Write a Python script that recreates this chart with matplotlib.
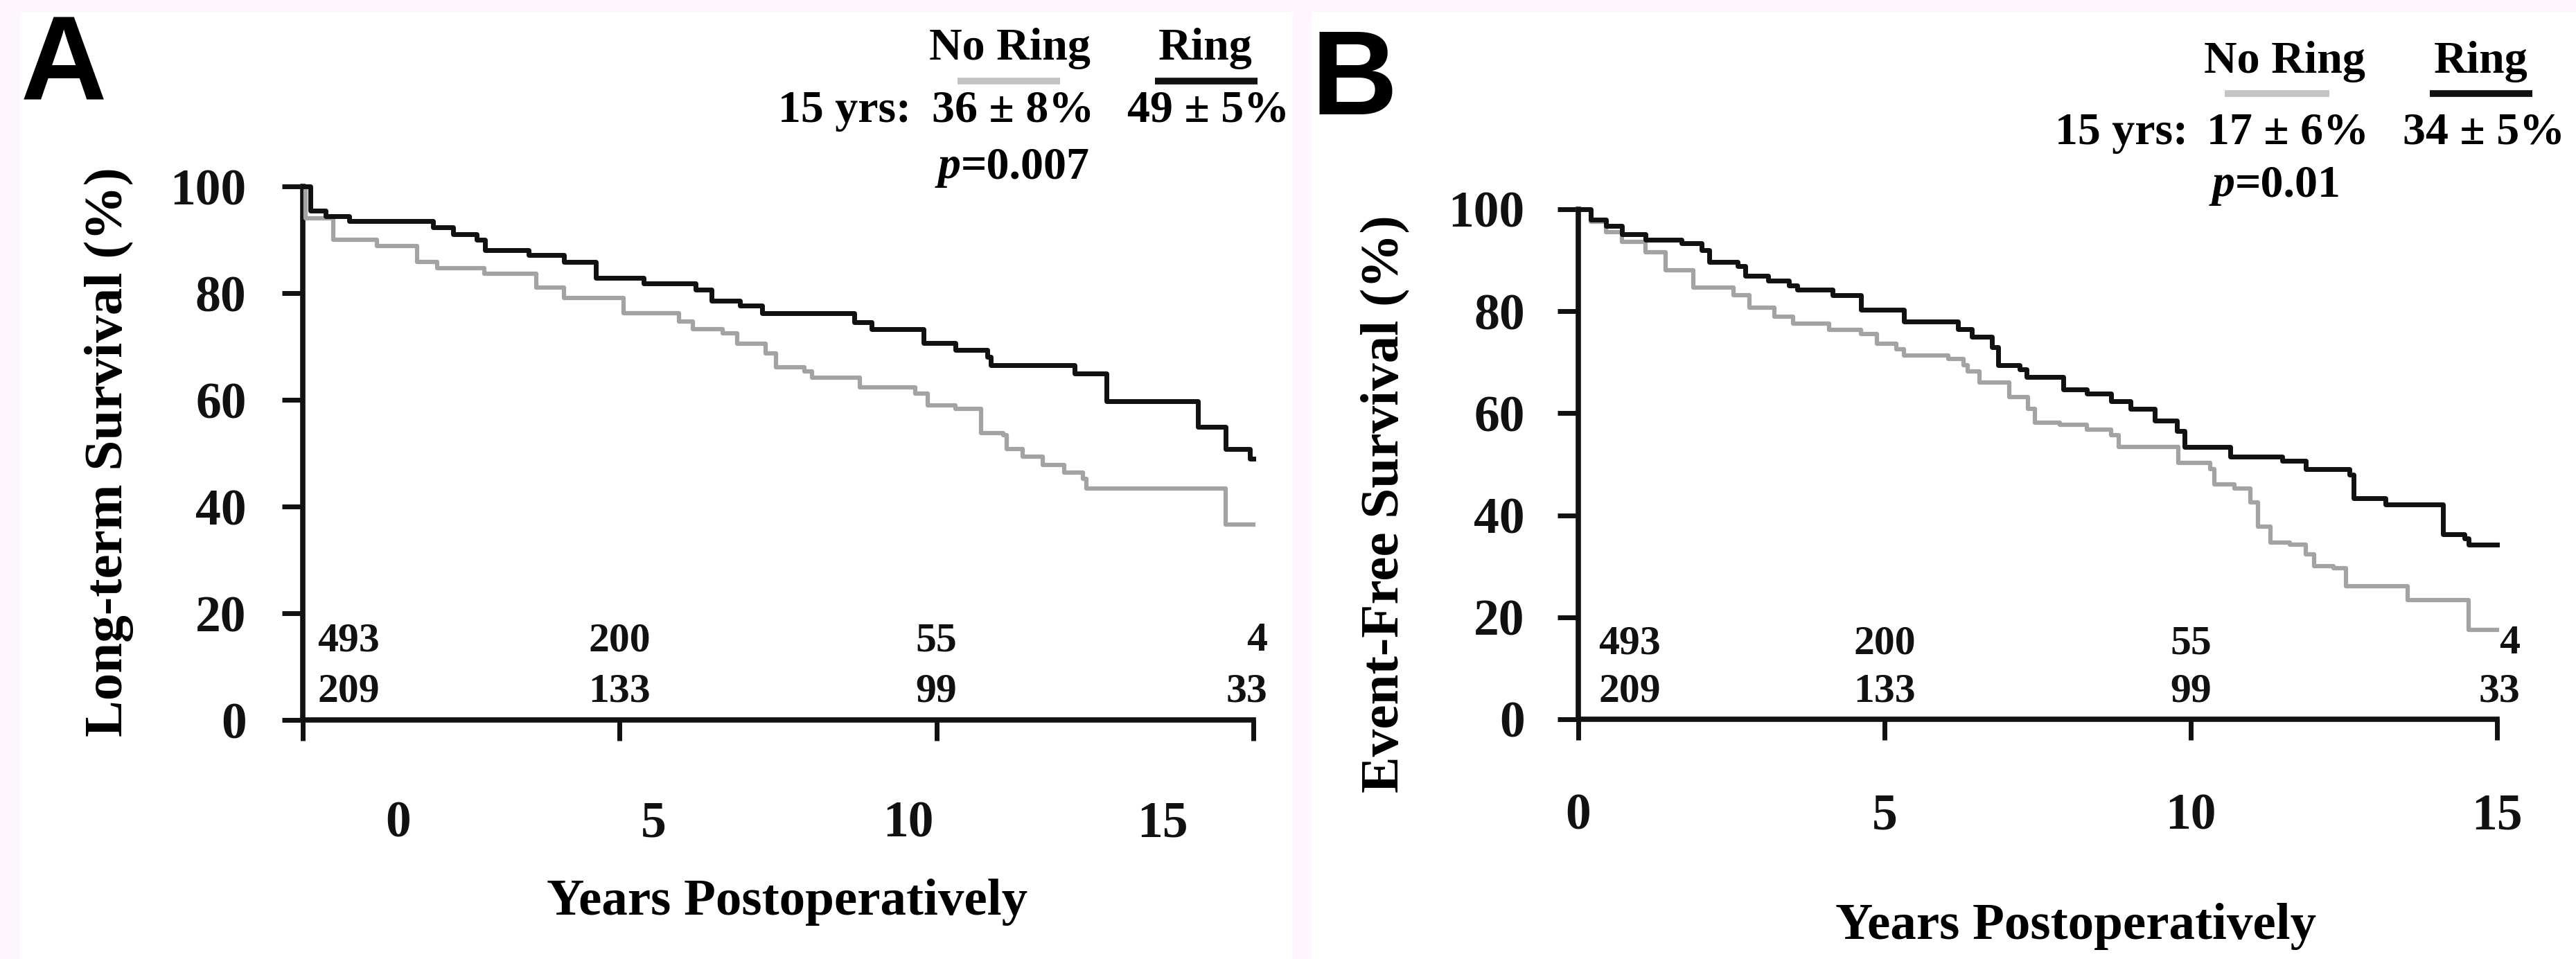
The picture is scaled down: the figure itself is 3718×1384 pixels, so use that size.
import matplotlib
matplotlib.use("Agg")
import matplotlib.pyplot as plt
from matplotlib.patches import Rectangle
from matplotlib.lines import Line2D

# -------------------------
# Data
# -------------------------
# Panel A: long-term survival (step times in years, survival in %)
a_ring_t = [0, 0.12, 0.36, 0.73, 2.06, 2.37, 2.74, 2.87, 3.56, 4.12, 4.63, 5.38, 6.2, 6.45,
            6.9, 7.25, 8.7, 8.98, 9.8, 10.3, 10.8, 10.86, 12.18, 12.68, 14.12, 14.56, 14.94, 15.0]
a_ring_s = [100, 95.5, 94.4, 93.5, 92.4, 91.0, 90.0, 88.1, 87.2, 85.8, 82.9, 81.8, 80.6, 78.6,
            77.7, 76.2, 74.5, 73.2, 70.6, 69.3, 68.0, 66.5, 65.0, 59.7, 54.9, 50.8, 49.0, 49.0]

a_noring_t = [0, 0.04, 0.48, 1.17, 1.8, 2.12, 2.86, 3.68, 4.12, 5.06, 5.94, 6.15, 6.63, 6.85,
              7.3, 7.47, 7.91, 8.04, 8.79, 9.67, 9.86, 10.3, 10.7, 11.05, 11.11, 11.36, 11.68,
              12.02, 12.31, 12.37, 14.56, 15.0]
a_noring_s = [100, 94.0, 90.0, 88.8, 85.8, 84.7, 83.6, 81.0, 79.1, 76.2, 74.7, 73.2, 72.5, 70.5,
              68.7, 66.1, 65.3, 64.2, 62.4, 61.2, 59.0, 58.3, 53.8, 53.4, 50.8, 49.3, 47.8,
              46.4, 45.2, 43.4, 36.6, 36.6]

# Panel B: event-free survival
b_ring_t = [0, 0.2, 0.45, 0.71, 1.10, 1.69, 2.01, 2.14, 2.6, 2.73, 3.1, 3.44, 3.57, 4.15, 4.61,
            5.32, 6.2, 6.43, 6.75, 6.86, 7.21, 7.32, 7.92, 8.3, 8.7, 9.02, 9.41, 9.77, 9.9,
            10.64, 11.49, 11.88, 12.59, 12.66, 13.18, 14.12, 14.47, 14.54, 15.0]
b_ring_s = [100, 98.0, 96.7, 95.1, 94.0, 93.4, 92.0, 89.7, 88.9, 87.0, 86.0, 85.0, 84.2, 83.1, 80.3,
            78.0, 76.5, 75.0, 73.0, 69.4, 68.6, 67.1, 64.7, 63.9, 62.4, 60.9, 58.5, 56.5, 53.4,
            51.5, 50.7, 49.1, 48.0, 43.3, 42.1, 36.3, 35.5, 34.3, 34.3]

b_noring_t = [0, 0.2, 0.45, 0.71, 1.10, 1.43, 1.88, 2.53, 2.79, 3.2, 3.51, 4.09, 4.61, 4.87, 5.19,
              5.32, 6.04, 6.29, 6.36, 6.55, 7.04, 7.34, 7.45, 7.86, 8.3, 8.70, 8.82, 9.8, 10.32,
              10.38, 10.71, 10.97, 11.10, 11.30, 11.62, 11.88, 12.01, 12.33, 12.53, 13.54, 14.54, 15.0]
b_noring_s = [100, 97.5, 95.5, 93.6, 91.6, 88.1, 84.6, 83.1, 80.7, 79.0, 77.6, 76.4, 75.6, 73.7, 72.5,
              71.3, 70.6, 69.4, 68.2, 66.0, 63.2, 60.9, 58.1, 57.7, 56.8, 55.7, 53.4, 50.3, 49.1,
              46.0, 45.2, 42.5, 37.8, 34.7, 34.3, 32.3, 30.0, 29.6, 26.1, 23.4, 17.5, 17.5]

risk_years = [0, 5, 10, 15]
at_risk_top = [493, 200, 55, 4]
at_risk_bottom = [209, 133, 99, 33]

x_ticks = [0, 5, 10, 15]
y_ticks = [0, 20, 40, 60, 80, 100]

a_ylabel = "Long-term Survival (%)"
b_ylabel = "Event-Free Survival (%)"
xlabel = "Years Postoperatively"
a_stats = ["36 \u00b1 8%", "49 \u00b1 5%", "=0.007"]
b_stats = ["17 \u00b1 6%", "34 \u00b1 5%", "=0.01"]

# -------------------------
# Figure setup
# -------------------------
W, H = 3718, 1384
plt.rcParams["font.family"] = ["Liberation Serif", "DejaVu Serif"]
plt.rcParams["font.weight"] = "bold"

fig = plt.figure(figsize=(W / 100, H / 100), dpi=100, facecolor="#fef6fe")


def fx(x):
    return x / W


def fy(y):
    return 1 - y / H


# white panel backgrounds (behind the axes)
for x0, x1 in [(30, 1865), (1893, W)]:
    fig.patches.append(Rectangle((fx(x0), 0), fx(x1) - fx(x0), fy(17),
                                 transform=fig.transFigure, facecolor="white",
                                 edgecolor="none", zorder=-5))

BLACK = "#111111"
GRAY = "#a3a3a3"


def make_axes(left, right, top, bottom):
    ax = fig.add_axes([fx(left), fy(bottom), fx(right) - fx(left), (bottom - top) / H])
    ax.set_facecolor("none")
    ax.set_xlim(0, 15)
    ax.set_ylim(0, 100)
    for s in ["top", "right"]:
        ax.spines[s].set_visible(False)
    for s in ["left", "bottom"]:
        ax.spines[s].set_linewidth(5.5)
        ax.spines[s].set_color(BLACK)
    ax.set_xticks(x_ticks)
    ax.set_yticks(y_ticks)
    ax.tick_params(direction="out", length=21.6, width=5, colors=BLACK, labelsize=53)
    return ax


def draw_panel(ax, ring_t, ring_s, noring_t, noring_s, left_off, right_off):
    ax.step(noring_t, noring_s, where="post", color=GRAY, lw=4.5, clip_on=False, zorder=3)
    ax.step(ring_t, ring_s, where="post", color=BLACK, lw=5, clip_on=False, zorder=4)
    n = len(risk_years)
    for i, yr in enumerate(risk_years):
        if i == 0:
            x, ha = yr + left_off, "left"
        elif i == n - 1:
            x, ha = yr + right_off, "right"
        else:
            x, ha = yr, "center"
        ax.text(x, 14.8, str(at_risk_top[i]), ha=ha, va="center", fontsize=43, color=BLACK)
        ax.text(x, 5.3, str(at_risk_bottom[i]), ha=ha, va="center", fontsize=43, color=BLACK)


# -------------------------
# Panel A
# -------------------------
axA = make_axes(437, 1809, 269, 1039)
draw_panel(axA, a_ring_t, a_ring_s, a_noring_t, a_noring_s, 0.23, 0.22)
axA.tick_params(axis="y", pad=37)
axA.set_xticklabels([])
# the year labels in panel A sit off their ticks in the original
for yr in x_ticks:
    axA.text(1.51 + 0.804 * yr, -19.5, str(yr), ha="center", va="center", fontsize=53,
             color=BLACK)

# -------------------------
# Panel B
# -------------------------
axB = make_axes(2278, 3604, 302, 1038)
draw_panel(axB, b_ring_t, b_ring_s, b_noring_t, b_noring_s, 0.33, 0.38)
axB.tick_params(axis="y", pad=34)
axB.tick_params(axis="x", pad=55)

# -------------------------
# Labels, panel letters, legends
# -------------------------
fig.text(fx(30), fy(143), "A", family="Liberation Sans", weight="bold", fontsize=124,
         ha="left", va="baseline", color="black")
fig.text(fx(1893), fy(165), "B", family="Liberation Sans", weight="bold", fontsize=124,
         ha="left", va="baseline", color="black")

fig.text(fx(157), fy(652), a_ylabel, rotation=90, ha="center", va="center", fontsize=57)
fig.text(fx(2000), fy(727), b_ylabel, rotation=90, ha="center", va="center", fontsize=57)
fig.text(fx(1136), fy(1320), xlabel, ha="center", va="baseline", fontsize=54)
fig.text(fx(2996), fy(1355), xlabel, ha="center", va="baseline", fontsize=54)


def legend_block(cx_no, cx_ring, bar_no, bar_ring, y_name, y_bar, cx_yrs, y_vals,
                 p_split, y_p, stats):
    fs = 47.5
    fig.text(fx(cx_no), fy(y_name), "No Ring", ha="center", va="baseline", fontsize=fs)
    fig.text(fx(cx_ring), fy(y_name), "Ring", ha="center", va="baseline", fontsize=fs)
    fig.add_artist(Line2D([fx(bar_no[0]), fx(bar_no[1])], [fy(y_bar), fy(y_bar)],
                          transform=fig.transFigure, color="#c4c4c4", lw=7,
                          solid_capstyle="butt"))
    fig.add_artist(Line2D([fx(bar_ring[0]), fx(bar_ring[1])], [fy(y_bar), fy(y_bar)],
                          transform=fig.transFigure, color=BLACK, lw=7,
                          solid_capstyle="butt"))
    fig.text(fx(cx_yrs), fy(y_vals), "15 yrs:", ha="center", va="baseline", fontsize=fs)
    fig.text(fx(cx_no + 5), fy(y_vals), stats[0], ha="center", va="baseline", fontsize=fs)
    fig.text(fx(cx_ring + 4), fy(y_vals), stats[1], ha="center", va="baseline", fontsize=fs)
    fig.text(fx(p_split), fy(y_p), "p", style="italic", ha="right", va="baseline", fontsize=fs)
    fig.text(fx(p_split), fy(y_p), stats[2], ha="left", va="baseline", fontsize=fs)


legend_block(1457, 1740, (1382, 1530), (1667, 1815), 86, 117, 1219, 176, 1387, 257, a_stats)
legend_block(3297, 3581, (3211, 3362), (3507, 3655), 105, 135, 3062, 208, 3226, 283, b_stats)

fig.savefig("out.png", dpi=100, facecolor=fig.get_facecolor())
